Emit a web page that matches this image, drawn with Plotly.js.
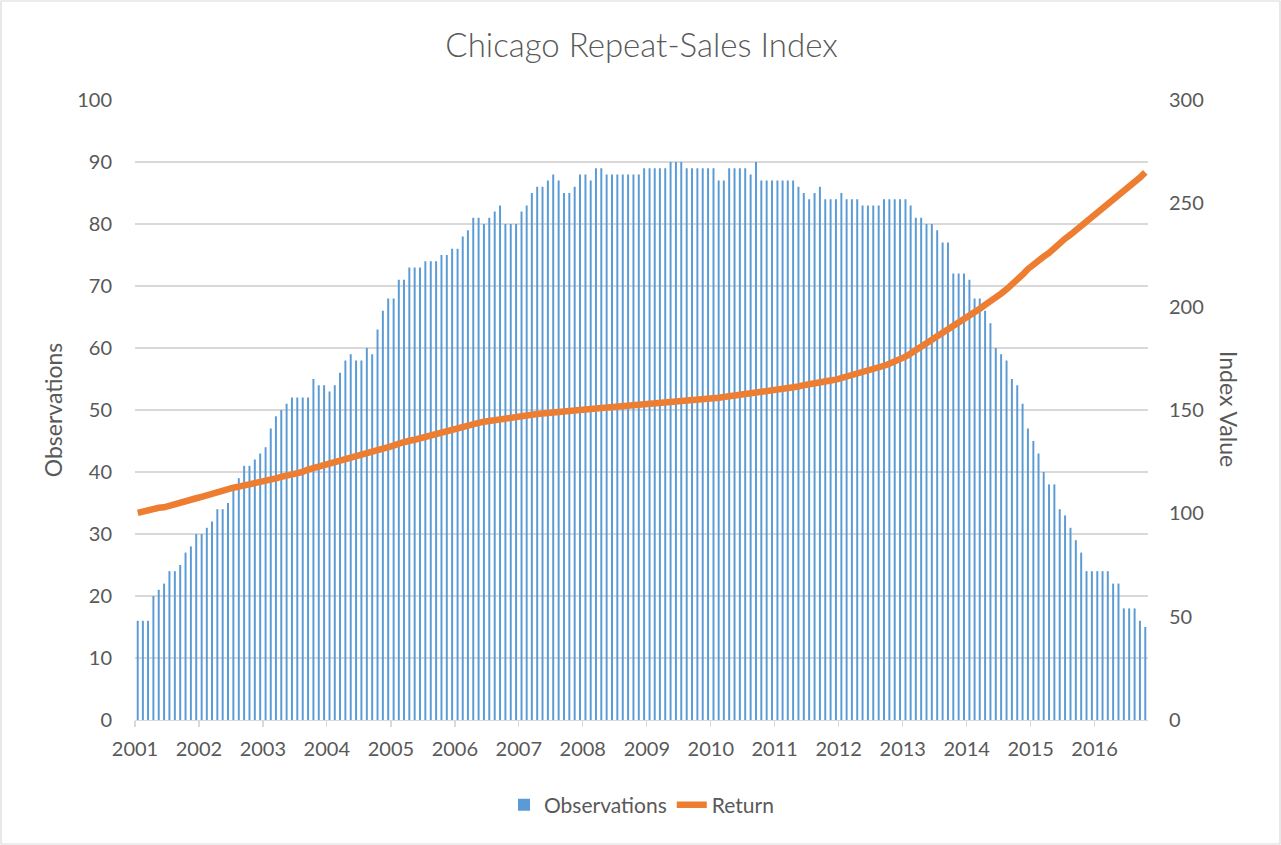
<!DOCTYPE html>
<html>
<head>
<meta charset="utf-8">
<script src="https://cdn.plot.ly/plotly-3.0.1.min.js"></script>
<style>
  html, body { margin: 0; padding: 0; background: #ffffff; }
  #chart { width: 1281px; height: 845px; }
</style>
</head>
<body>
<div id="chart"></div>
<script>
// Monthly periods: January 2001 through October 2016
const startYear = 2001;
const monthCount = 190;

// Number of repeat-sales observations per month (left axis)
const observations = [
  16,16,16,20,21,22,24,24,25,27,28,30,
  30,31,32,34,34,35,37,39,41,41,42,43,
  44,47,49,50,51,52,52,52,52,55,54,54,
  53,54,56,58,59,58,58,60,59,63,66,68,
  68,71,71,73,73,73,74,74,74,75,75,76,
  76,78,79,81,81,80,81,82,83,80,80,80,
  82,83,85,86,86,87,88,87,85,85,86,88,
  88,87,89,89,88,88,88,88,88,88,88,89,
  89,89,89,89,90,90,90,89,89,89,89,89,
  89,87,87,89,89,89,89,88,90,87,87,87,
  87,87,87,87,86,85,84,85,86,84,84,84,
  85,84,84,84,83,83,83,83,84,84,84,84,
  84,83,81,81,80,80,79,77,77,72,72,72,
  71,68,68,66,64,60,59,58,55,54,51,47,
  45,43,40,38,38,34,33,31,29,27,24,24,
  24,24,24,22,22,18,18,18,16,15
];

// Repeat-sales index value per month (right axis)
const indexValue = [
  100.2,101.0,101.8,102.3,102.7,102.9,103.5,104.4,105.1,105.8,106.5,107.3,
  108.0,108.8,109.6,110.4,111.2,111.8,112.4,112.9,113.4,113.9,114.4,114.8,
  115.3,116.0,116.9,117.6,118.1,118.6,119.2,120.1,121.2,121.9,122.4,123.0,
  123.6,124.2,124.9,125.7,126.4,127.0,127.7,128.4,129.1,129.8,130.8,131.8,
  132.7,133.7,134.6,135.1,135.6,136.3,137.3,138.3,139.0,139.7,140.3,140.9,
  141.4,142.1,142.7,143.3,143.8,144.3,144.6,145.0,145.3,145.8,146.3,146.6,
  146.9,147.3,147.7,148.1,148.4,148.8,149.0,149.3,149.5,149.7,150.0,150.3,
  150.4,150.5,150.7,150.9,151.1,151.4,151.6,151.8,152.0,152.2,152.4,152.7,
  152.9,153.2,153.5,153.8,154.0,154.1,154.2,154.4,154.6,154.8,155.0,155.2,
  155.5,155.9,156.3,156.8,157.2,157.6,157.9,158.2,158.5,158.8,159.1,159.4,
  159.7,160.1,160.6,161.0,161.4,162.0,162.6,163.1,163.4,163.9,164.3,164.7,
  165.4,166.1,166.7,167.4,168.2,168.9,169.7,170.5,171.4,172.4,173.4,174.4,
  175.8,177.3,178.9,180.5,182.3,184.1,185.8,187.3,188.6,190.0,191.6,193.4,
  195.4,197.3,199.0,200.9,202.5,204.3,206.3,208.4,210.5,212.9,215.5,218.2,
  220.6,222.7,224.2,226.0,228.6,230.9,232.9,234.8,236.9,239.2,241.5,243.4,
  245.0,247.3,249.3,251.2,253.5,255.8,258.0,260.3,262.5,265.0
];

const months = [];
for (let i = 0; i < monthCount; i++) {
  const y = startYear + Math.floor(i / 12);
  const m = (i % 12) + 1;
  months.push(y + '-' + (m < 10 ? '0' + m : '' + m));
}

const yearTicks = [];
const yearLabels = [];
for (let y = 2001; y <= 2016; y++) { yearTicks.push(y + '-01-01'); yearLabels.push(String(y)); }

const FONT = 'Lato, "Open Sans", "Noto Sans", sans-serif';
const GRAY = '#595959';
const GRID = '#d9d9d9';

const traces = [
  {
    type: 'bar',
    name: 'Observations',
    x: months,
    y: observations,
    xperiod: 'M1',
    xperiodalignment: 'middle',
    marker: { color: '#5b9bd5', line: { width: 0 } },
    yaxis: 'y',
    hoverinfo: 'x+y'
  },
  {
    type: 'scatter',
    mode: 'lines',
    name: 'Return',
    x: months,
    y: indexValue,
    xperiod: 'M1',
    xperiodalignment: 'middle',
    line: { color: '#ed7d31', width: 6.5 },
    yaxis: 'y2'
  }
];

const layout = {
  width: 1281,
  height: 845,
  paper_bgcolor: '#ffffff',
  plot_bgcolor: '#ffffff',
  margin: { l: 135, r: 133, t: 100, b: 125 },
  font: { family: FONT, color: GRAY, size: 20 },
  bargap: 0.62,
  title: {
    text: 'Chicago Repeat-Sales Index',
    font: { family: FONT, size: 33, color: GRAY, weight: 300 },
    x: 0.5, xref: 'paper', xanchor: 'center',
    y: 1 - 45 / 845, yref: 'container', yanchor: 'middle'
  },
  xaxis: {
    type: 'date',
    range: ['2001-01-01', '2016-11-01'],
    tickvals: yearTicks,
    ticktext: yearLabels,
    ticks: 'outside',
    ticklen: 6,
    tickwidth: 1.3,
    tickcolor: GRID,
    showline: true,
    linecolor: GRID,
    linewidth: 1.3,
    showgrid: false,
    zeroline: false,
    tickfont: { family: FONT, size: 20, color: GRAY },
    ticklabelstandoff: 5
  },
  yaxis: {
    range: [0, 100],
    dtick: 10,
    tick0: 0,
    showgrid: true,
    gridcolor: GRID,
    gridwidth: 1.5,
    zeroline: false,
    showline: false,
    ticks: '',
    tickfont: { family: FONT, size: 20, color: GRAY },
    ticklabelstandoff: 22,
    title: { text: 'Observations', font: { family: FONT, size: 23, color: GRAY }, standoff: 8 }
  },
  yaxis2: {
    range: [0, 300],
    dtick: 50,
    tick0: 0,
    overlaying: 'y',
    side: 'right',
    showgrid: false,
    zeroline: false,
    showline: false,
    ticks: '',
    tickfont: { family: FONT, size: 20, color: GRAY },
    ticklabelstandoff: 20
  },
  annotations: [
    {
      text: 'Index Value',
      xref: 'paper', yref: 'paper',
      x: (1229 - 135) / 1013, y: (720 - 409) / 620,
      xanchor: 'center', yanchor: 'middle',
      textangle: 90,
      showarrow: false,
      font: { family: FONT, size: 23, color: GRAY }
    }
  ],
  legend: {
    orientation: 'h',
    x: 0.5, xanchor: 'center',
    y: (720 - 805) / 620, yanchor: 'middle',
    font: { family: FONT, size: 21, color: GRAY },
    bgcolor: 'rgba(0,0,0,0)'
  },
  shapes: [
    {
      type: 'rect', xref: 'paper', yref: 'paper',
      x0: (1 - 135) / 1013, x1: (1280 - 135) / 1013,
      y0: (720 - 844) / 620, y1: (720 - 1) / 620,
      line: { color: GRID, width: 1.2 },
      fillcolor: 'rgba(0,0,0,0)',
      layer: 'below'
    }
  ],
  showlegend: true
};

Plotly.newPlot('chart', traces, layout, { displayModeBar: false, staticPlot: true });
</script>
</body>
</html>
